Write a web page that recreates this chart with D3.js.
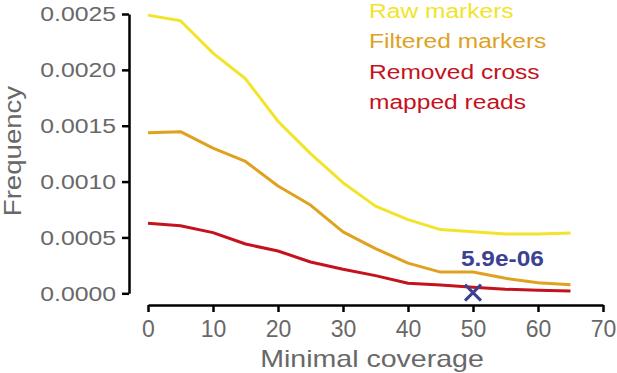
<!DOCTYPE html>
<html>
<head>
<meta charset="utf-8">
<script src="https://cdn.jsdelivr.net/npm/d3@7/dist/d3.min.js"></script>
<style>
  html, body { margin: 0; padding: 0; background: #fff; }
  svg { display: block; font-family: "Liberation Sans", Arial, Helvetica, sans-serif; }
</style>
</head>
<body>
<svg id="chart" width="617" height="373"></svg>
<script>
// ---- data ----
const coverage = [0, 5, 10, 15, 20, 25, 30, 35, 40, 45, 50, 55, 60, 65];
const rawMarkers = [0.00249, 0.00244, 0.00215, 0.00192, 0.00154, 0.00125, 0.00099, 0.00078, 0.00066, 0.00057, 0.00055, 0.00053, 0.00053, 0.00054];
const filteredMarkers = [0.001438, 0.001447, 0.00130, 0.00118, 0.00096, 0.00079, 0.00055, 0.00040, 0.00027, 0.00019, 0.00019, 0.000134, 0.000095, 0.000077];
const removedCross = [0.000627, 0.000605, 0.000543, 0.000441, 0.000379, 0.00028, 0.000215, 0.000158, 0.00009, 0.000074, 0.000054, 0.000036, 0.000027, 0.00002];
const seriesNames = ["Raw markers", "Filtered markers", "Removed cross", "mapped reads"];
const xTicks = [0, 10, 20, 30, 40, 50, 60, 70];
const yTicks = [0, 0.0005, 0.0010, 0.0015, 0.0020, 0.0025];
const annotX = 50;
const annotY = 5.9e-06;
const annotLabel = "5.9e-06";
const xTitle = "Minimal coverage";
const yTitle = "Frequency";

// ---- styles ----
const C_YEL = "#f1e42b", C_ORA = "#e0a11f", C_RED = "#c5121c", C_BLUE = "#3c4191", C_GRAY = "#686868";

const svg = d3.select("#chart");
const x = d3.scaleLinear().domain([0, 70]).range([148, 603]);
const y = d3.scaleLinear().domain([0, 0.0025]).range([293.3, 14]);

// Y axis
const gy = svg.append("g").attr("transform", "translate(129,0)")
  .call(d3.axisLeft(y).tickValues(yTicks).tickFormat(d3.format(".4f")).tickSize(7).tickSizeOuter(0));
gy.select(".domain").attr("stroke", "#000").attr("stroke-width", 2.5);
gy.selectAll(".tick line").attr("stroke", "#000").attr("stroke-width", 2.5);
gy.selectAll(".tick text")
  .attr("x", 0).attr("dy", "0.35em")
  .attr("transform", "translate(-13,0) scale(1.27,1)")
  .attr("fill", C_GRAY).style("font-size", "19.5px").style("font-family", "'Liberation Sans', Arial, sans-serif");

// X axis
const gx = svg.append("g").attr("transform", "translate(0,305)")
  .call(d3.axisBottom(x).tickValues(xTicks).tickFormat(d3.format("d")).tickSize(7).tickPadding(8.5).tickSizeOuter(0));
gx.select(".domain").attr("stroke", "#000").attr("stroke-width", 2.5);
gx.selectAll(".tick line").attr("stroke", "#000").attr("stroke-width", 2.5);
gx.selectAll(".tick text")
  .attr("fill", C_GRAY).style("font-size", "23px").style("font-family", "'Liberation Sans', Arial, sans-serif");

// Axis titles
svg.append("text")
  .attr("transform", "translate(372,366.5) scale(1.19,1)")
  .attr("text-anchor", "middle").attr("fill", C_GRAY)
  .style("font-size", "24px").text(xTitle);
svg.append("text")
  .attr("transform", "translate(20.5,151) rotate(-90) scale(1.2,1)")
  .attr("text-anchor", "middle").attr("fill", C_GRAY)
  .style("font-size", "23px").text(yTitle);

// Lines
const line = d3.line().x((d, i) => x(coverage[i])).y(d => y(d));
[[rawMarkers, C_YEL], [filteredMarkers, C_ORA], [removedCross, C_RED]].forEach(([vals, col]) => {
  svg.append("path").datum(vals)
    .attr("d", line).attr("fill", "none").attr("stroke", col)
    .attr("stroke-width", 3).attr("stroke-linejoin", "round").attr("stroke-linecap", "butt");
});

// Legend
const legendColors = [C_YEL, C_ORA, C_RED, C_RED];
seriesNames.forEach((name, i) => {
  svg.append("text")
    .attr("transform", `translate(369,${18.3 + i * 30.1}) scale(1.17,1)`)
    .attr("fill", legendColors[i]).style("font-size", "21px").text(name);
});

// Annotation marker
const mx = x(annotX), my = y(annotY), h = 8;
svg.append("path")
  .attr("d", `M${mx - h},${my - h}L${mx + h},${my + h}M${mx - h},${my + h}L${mx + h},${my - h}`)
  .attr("stroke", C_BLUE).attr("stroke-width", 3).attr("fill", "none");
svg.append("text")
  .attr("transform", `translate(${mx - 12},${my - 26.5}) scale(1.11,1)`)
  .attr("fill", C_BLUE).style("font-size", "22px").style("font-weight", "bold").text(annotLabel);
</script>
</body>
</html>
